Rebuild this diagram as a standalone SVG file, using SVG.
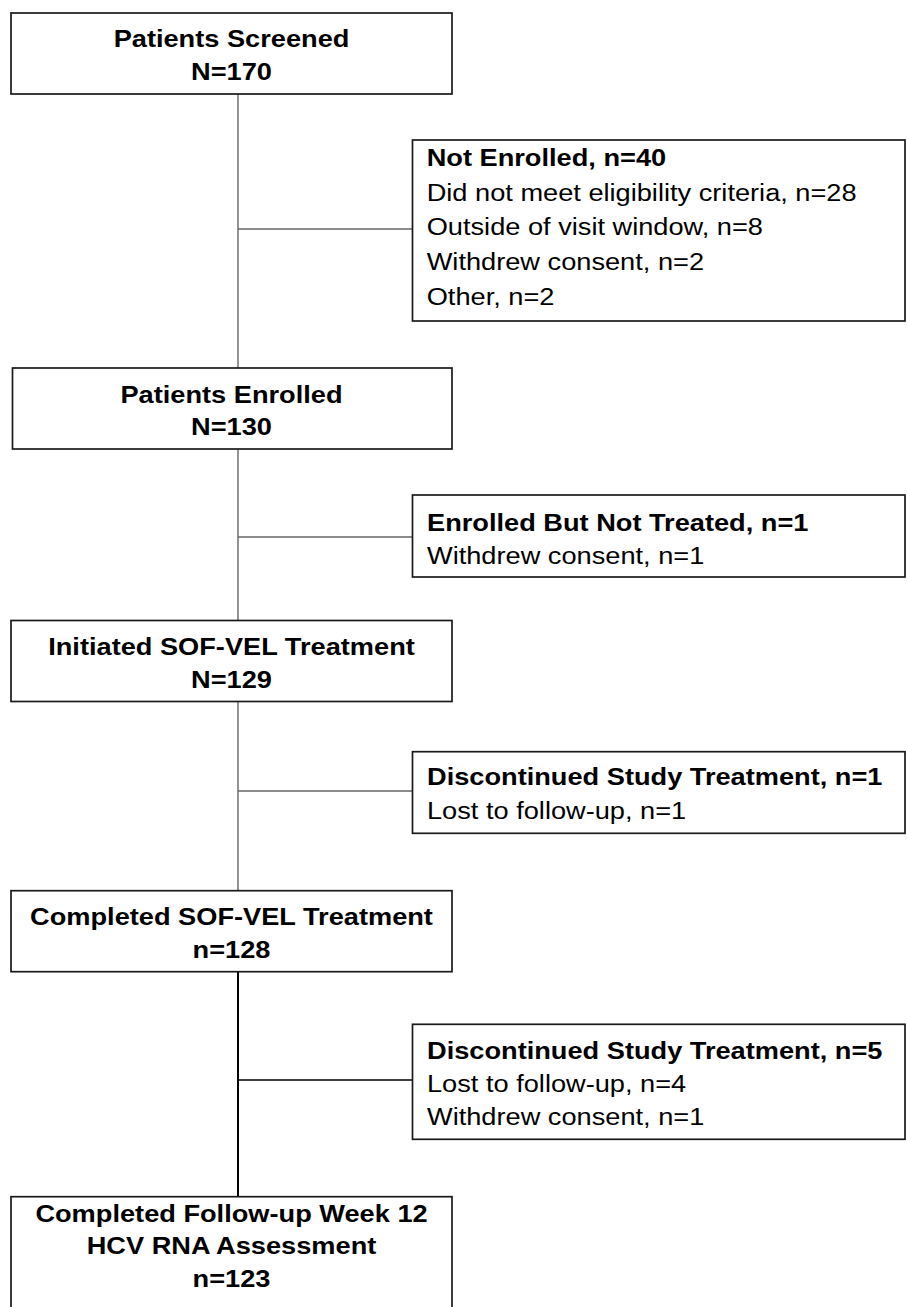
<svg xmlns="http://www.w3.org/2000/svg" width="907" height="1307" viewBox="0 0 907 1307">
<style>
.box{fill:#fff;stroke:#1a1a1a;stroke-width:1.7}
.t{font-family:"Liberation Sans",Arial,sans-serif;font-size:24.5px;fill:#000}
.b{font-weight:bold}
.c{text-anchor:middle}
.ln{stroke:#666;stroke-width:1.4;fill:none}
.lk{stroke:#000;stroke-width:2;fill:none}
.lk2{stroke:#000;stroke-width:1.5;fill:none}
</style>
<g id="connectors">
<line class="ln" x1="238" y1="94" x2="238" y2="368"/>
<line class="ln" x1="238" y1="229" x2="412" y2="229"/>
<line class="ln" x1="238" y1="449" x2="238" y2="620.5"/>
<line class="ln" x1="238" y1="537" x2="412" y2="537"/>
<line class="ln" x1="238" y1="701.5" x2="238" y2="890.7"/>
<line class="ln" x1="238" y1="791" x2="412" y2="791"/>
<line class="lk" x1="238" y1="971.7" x2="238" y2="1196.7"/>
<line class="lk2" x1="238" y1="1080" x2="412" y2="1080"/>
</g>
<g id="screened">
<rect class="box" x="11" y="13" width="441" height="81"/>
<text class="t b c" transform="translate(231.5,47.3) scale(1.11,1)">Patients Screened</text>
<text class="t b c" transform="translate(231.5,80) scale(1.11,1)">N=170</text>
</g>
<g id="not-enrolled">
<rect class="box" x="412.5" y="140" width="492.5" height="181"/>
<text class="t b" transform="translate(426.7,165.7) scale(1.11,1)">Not Enrolled, n=40</text>
<text class="t" transform="translate(426.7,200.5) scale(1.11,1)">Did not meet eligibility criteria, n=28</text>
<text class="t" transform="translate(426.7,235.2) scale(1.11,1)">Outside of visit window, n=8</text>
<text class="t" transform="translate(426.7,269.9) scale(1.11,1)">Withdrew consent, n=2</text>
<text class="t" transform="translate(426.7,304.6) scale(1.11,1)">Other, n=2</text>
</g>
<g id="enrolled">
<rect class="box" x="12.5" y="368" width="439.5" height="81"/>
<text class="t b c" transform="translate(231.5,402.5) scale(1.11,1)">Patients Enrolled</text>
<text class="t b c" transform="translate(231.5,435) scale(1.11,1)">N=130</text>
</g>
<g id="not-treated">
<rect class="box" x="412.5" y="495" width="492.5" height="82"/>
<text class="t b" transform="translate(427,530.5) scale(1.11,1)">Enrolled But Not Treated, n=1</text>
<text class="t" transform="translate(427,564) scale(1.11,1)">Withdrew consent, n=1</text>
</g>
<g id="initiated">
<rect class="box" x="11" y="620.5" width="441" height="81"/>
<text class="t b c" transform="translate(231.5,655) scale(1.11,1)">Initiated SOF-VEL Treatment</text>
<text class="t b c" transform="translate(231.5,688) scale(1.11,1)">N=129</text>
</g>
<g id="discontinued-1">
<rect class="box" x="412.5" y="751.7" width="492.5" height="81.6"/>
<text class="t b" transform="translate(427,785) scale(1.11,1)">Discontinued Study Treatment, n=1</text>
<text class="t" transform="translate(427,819) scale(1.11,1)">Lost to follow-up, n=1</text>
</g>
<g id="completed">
<rect class="box" x="11" y="890.7" width="441" height="81"/>
<text class="t b c" transform="translate(231.5,925) scale(1.11,1)">Completed SOF-VEL Treatment</text>
<text class="t b c" transform="translate(231.5,957.7) scale(1.11,1)">n=128</text>
</g>
<g id="discontinued-5">
<rect class="box" x="412.5" y="1024.3" width="492.5" height="115"/>
<text class="t b" transform="translate(427,1059) scale(1.11,1)">Discontinued Study Treatment, n=5</text>
<text class="t" transform="translate(427,1092) scale(1.11,1)">Lost to follow-up, n=4</text>
<text class="t" transform="translate(427,1125) scale(1.11,1)">Withdrew consent, n=1</text>
</g>
<g id="follow-up">
<rect class="box" x="11" y="1196.7" width="441" height="130"/>
<text class="t b c" transform="translate(231.5,1221.7) scale(1.11,1)">Completed Follow-up Week 12</text>
<text class="t b c" transform="translate(231.5,1254) scale(1.11,1)">HCV RNA Assessment</text>
<text class="t b c" transform="translate(231.5,1286.5) scale(1.11,1)">n=123</text>
</g>
</svg>
